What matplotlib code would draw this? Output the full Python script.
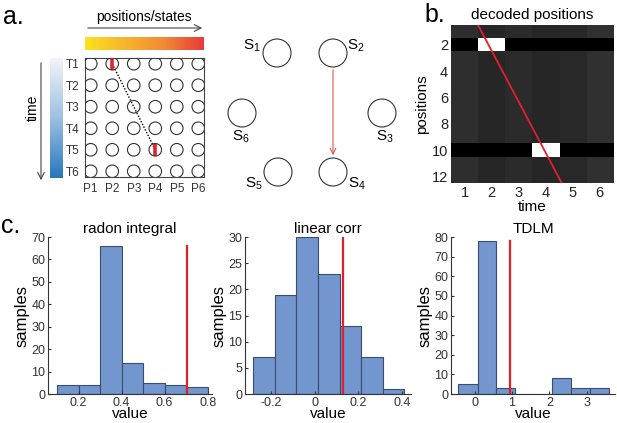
import matplotlib
matplotlib.use("Agg")
import matplotlib.pyplot as plt
import numpy as np
from matplotlib.colors import LinearSegmentedColormap
from matplotlib.patches import Circle

plt.rcParams['font.family'] = ['Liberation Sans', 'DejaVu Sans']
plt.rcParams['mathtext.fontset'] = 'custom'
plt.rcParams['mathtext.rm'] = 'Liberation Sans'
plt.rcParams['mathtext.it'] = 'Liberation Sans'

W, H = 617, 423

# panel a: 6x6 grid of time x position, replay events
grid_times = ["T1", "T2", "T3", "T4", "T5", "T6"]
grid_positions = ["P1", "P2", "P3", "P4", "P5", "P6"]
replay_times = [1, 5]
replay_positions = [2, 4]

# state diagram (pixel layout of the six states)
state_names = ["S$_1$", "S$_2$", "S$_3$", "S$_4$", "S$_5$", "S$_6$"]
state_x = [277, 333, 382, 333, 278, 242]
state_y = [53, 53, 113, 172, 172, 113]
label_x = [252, 356, 385, 357, 254, 241]
label_y = [46, 46, 137, 184, 184, 137]

# panel b: decoded positions
column_gray = [0.18, 0.15, 0.17, 0.15, 0.16, 0.19]
decoded_rows = [2, 10]
decoded_cols = [2, 4]
fit_x = [1.5, 4.6]
fit_y = [0.5, 12.5]

# panel c: null distributions
radon_edges = [0.1, 0.2, 0.3, 0.4, 0.5, 0.6, 0.7, 0.8]
radon_counts = [4, 4, 66, 14, 5, 4, 3]
radon_obs = 0.705

corr_edges = [-0.28, -0.1815, -0.083, 0.0155, 0.114, 0.2125, 0.311, 0.4095]
corr_counts = [7, 19, 30, 23, 13, 7, 1]
corr_obs = 0.13

tdlm_edges = [-0.43, 0.08, 0.58, 1.08, 1.58, 2.08, 2.58, 3.08, 3.58]
tdlm_counts = [5, 78, 3, 0, 0, 8, 3, 3]
tdlm_obs = 0.95


def px_axes(fig, left, top, right, bottom):
    return fig.add_axes([left / W, 1 - bottom / H, (right - left) / W, (bottom - top) / H])


fig = plt.figure(figsize=(W / 100, H / 100), dpi=100)

# --- panel a grid ---
ax = px_axes(fig, 85, 58, 204, 177)
ax.set_xlim(0.735, 6.265)
ax.set_ylim(6.265, 0.735)
xx, yy = np.meshgrid(np.arange(1, 7), np.arange(1, 7))
ax.plot(replay_positions, replay_times, color="black", ls=(0, (1, 1.2)), lw=1.0, zorder=1)
for p, t in zip(replay_positions, replay_times):
    ax.plot([p, p], [t - 0.27, t + 0.27], color="#E8202A", lw=2.6, solid_capstyle="butt", zorder=2)
ax.scatter(xx.ravel(), yy.ravel(), s=82, facecolors="none", edgecolors="#333333", linewidths=0.8, zorder=3)
ax.set_xticks(range(1, 7), grid_positions)
ax.set_yticks(range(1, 7), grid_times)
ax.tick_params(length=0, labelsize=8.5, colors="#333333", pad=4)
for s in ax.spines.values():
    s.set_color("#444444")
    s.set_linewidth(0.8)

# gradient bars
pos_cmap = LinearSegmentedColormap.from_list("pos", ["#FDE21E", "#F7B52C", "#F08A34", "#E63A3A"])
gax = px_axes(fig, 85, 37, 204, 50)
gax.imshow(np.linspace(0, 1, 256)[None, :], aspect="auto", cmap=pos_cmap)
gax.axis("off")

time_cmap = LinearSegmentedColormap.from_list("time", ["#F2F5FB", "#9DBFE2", "#2677BE"])
tax = px_axes(fig, 50, 58, 63, 178)
tax.imshow(np.linspace(0, 1, 256)[:, None], aspect="auto", cmap=time_cmap)
tax.axis("off")

# --- panel b ---
bx = px_axes(fig, 451, 25, 613, 183)
img = np.tile(np.array(column_gray), (12, 1))
for r, c in zip(decoded_rows, decoded_cols):
    img[r - 1, :] = 0.0
    img[r - 1, c - 1] = 1.0
bx.imshow(img, cmap="gray", vmin=0, vmax=1, extent=(0.5, 6.5, 12.5, 0.5), aspect="auto",
          interpolation="nearest")
bx.plot(fit_x, fit_y, color="#E3202A", lw=1.3)
bx.set_xlim(0.5, 6.5)
bx.set_ylim(12.5, 0.5)
bx.set_xticks(range(1, 7))
bx.set_yticks(range(2, 13, 2))
bx.tick_params(length=0, labelsize=10.5, colors="#222222", pad=2)
for s in bx.spines.values():
    s.set_visible(False)
bx.set_title("decoded positions", fontsize=11, pad=4)
bx.set_ylabel("positions", fontsize=11, labelpad=2)
bx.set_xlabel("time", fontsize=11, labelpad=0)


# --- panel c ---
def hist_panel(box, edges, counts, obs, xlim, ylim, yticks, xticks, title):
    a = px_axes(fig, *box)
    edges = np.array(edges)
    a.bar(edges[:-1], counts, width=np.diff(edges), align="edge", color="#7296CD",
          edgecolor="#3B4C6E", linewidth=0.8)
    a.plot([obs, obs], [0, max(counts)], color="#E3202A", lw=1.6)
    a.set_xlim(*xlim)
    a.set_ylim(*ylim)
    a.set_yticks(yticks)
    a.set_xticks(xticks, [f"{v:g}" for v in xticks])
    a.spines["top"].set_visible(False)
    a.spines["right"].set_visible(False)
    for s in ("left", "bottom"):
        a.spines[s].set_color("#333333")
        a.spines[s].set_linewidth(0.8)
    a.tick_params(direction="in", length=2.5, labelsize=9, colors="#333333", pad=2)
    a.set_title(title, fontsize=11, pad=3)
    a.set_xlabel("value", fontsize=11, labelpad=-1)
    a.set_ylabel("samples", fontsize=12, labelpad=1)
    return a


hist_panel((48, 237, 212, 394), radon_edges, radon_counts, radon_obs, (0.058, 0.82), (0, 70),
           range(0, 71, 10), [0.2, 0.4, 0.6, 0.8], "radon integral")
hist_panel((245, 237, 411, 394), corr_edges, corr_counts, corr_obs, (-0.318, 0.44), (0, 30),
           range(0, 31, 5), [-0.2, 0, 0.2, 0.4], "linear corr")
hist_panel((451, 237, 615, 394), tdlm_edges, tdlm_counts, tdlm_obs, (-0.63, 3.75), (0, 80),
           range(0, 81, 10), [0, 1, 2, 3], "TDLM")

# --- overlay for arrows, state diagram and panel letters ---
ov = fig.add_axes([0, 0, 1, 1])
ov.set_xlim(0, W)
ov.set_ylim(H, 0)
ov.axis("off")
ov.patch.set_alpha(0)

ov.annotate("", xy=(205, 28), xytext=(85, 28),
            arrowprops=dict(arrowstyle="->", color="#444444", lw=0.8, mutation_scale=12))
ov.text(144, 17, "positions/states", ha="center", va="center", fontsize=10)
ov.annotate("", xy=(41, 183), xytext=(41, 60),
            arrowprops=dict(arrowstyle="->", color="#444444", lw=0.8, mutation_scale=12))
ov.text(33, 108, "time", ha="center", va="center", rotation=90, fontsize=10)

for x, y in zip(state_x, state_y):
    ov.add_patch(Circle((x, y), 14, fill=False, ec="#333333", lw=0.8))
for name, x, y in zip(state_names, label_x, label_y):
    ov.text(x, y, name, ha="center", va="center", fontsize=11)
ov.annotate("", xy=(state_x[3], state_y[3] - 14), xytext=(state_x[1], state_y[1] + 14),
            arrowprops=dict(arrowstyle="->", color="#E05848", lw=0.8, mutation_scale=10))

ov.text(3, 17, "a.", ha="left", va="center", fontsize=18)
ov.text(424, 15, "b.", ha="left", va="center", fontsize=18)
ov.text(1, 226, "c.", ha="left", va="center", fontsize=18)

fig.savefig("out.png", dpi=100)
